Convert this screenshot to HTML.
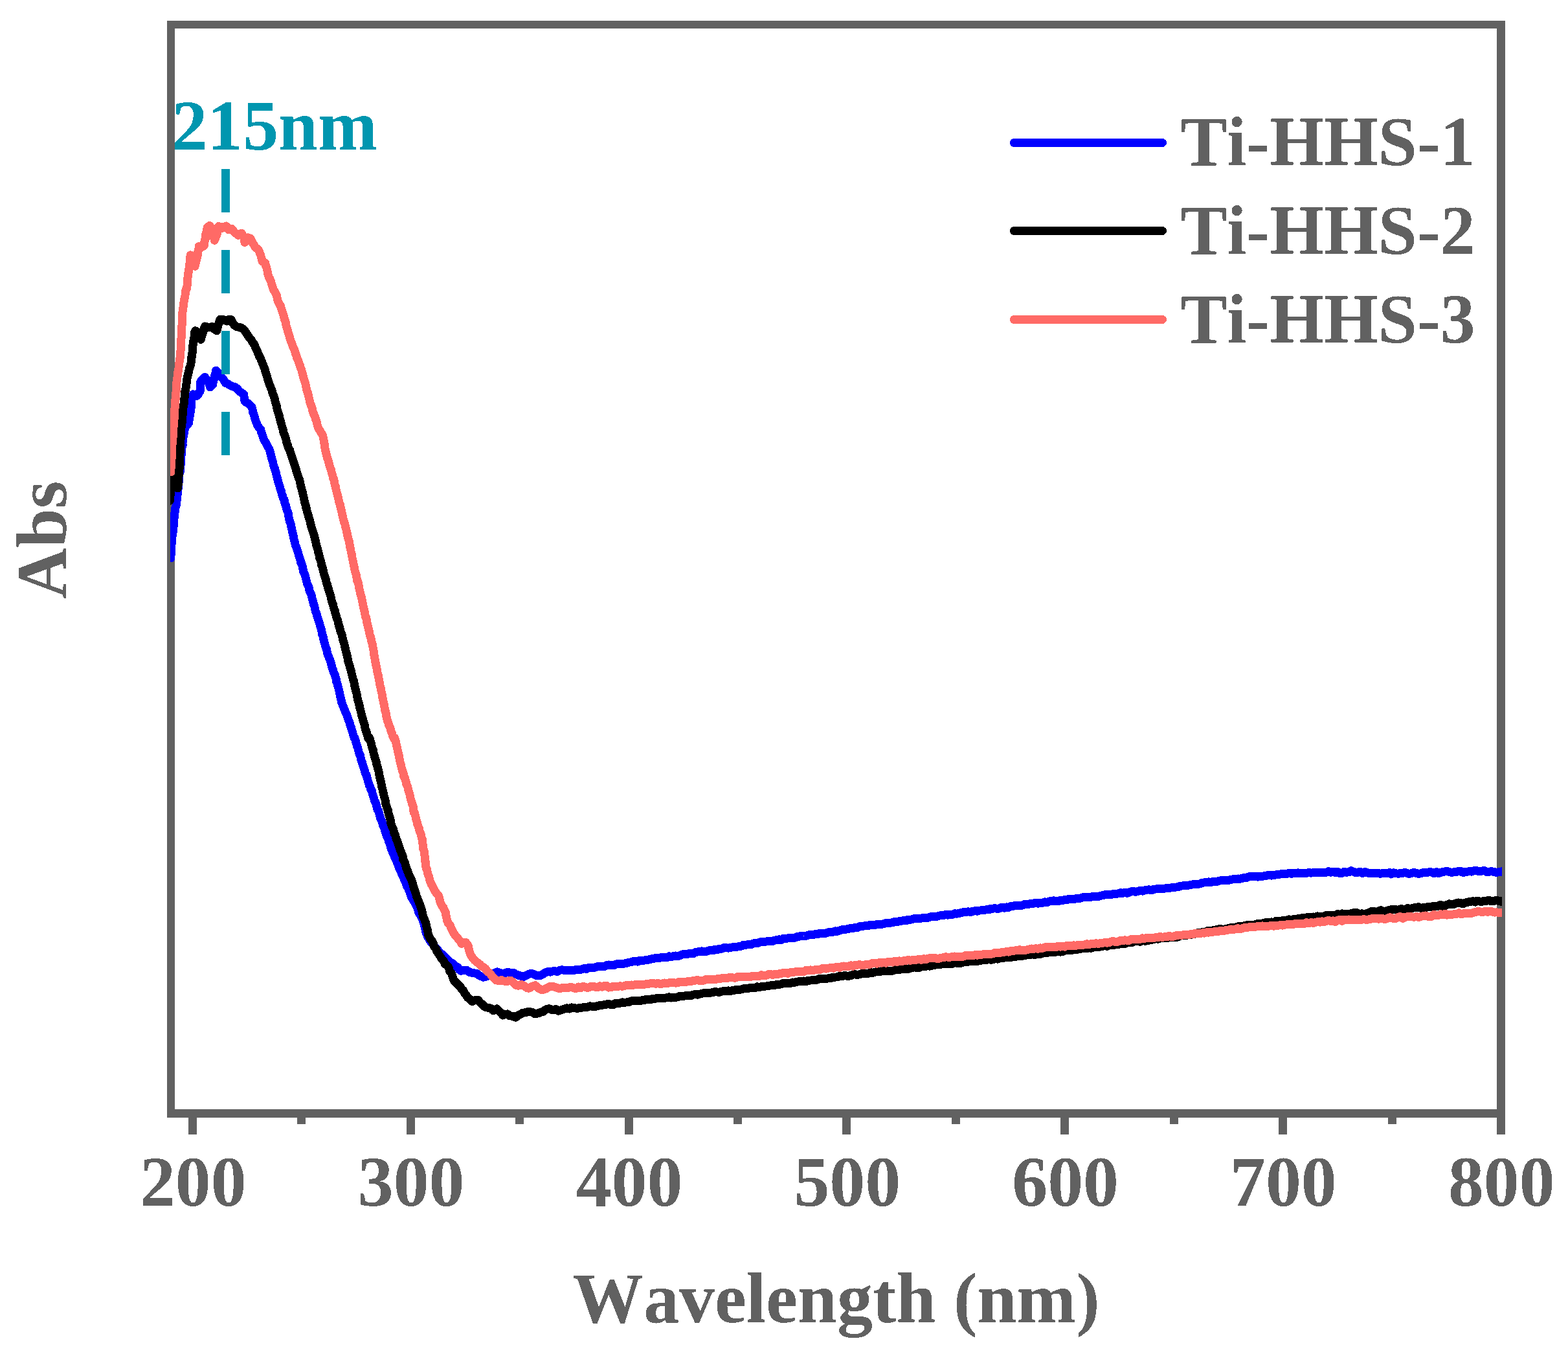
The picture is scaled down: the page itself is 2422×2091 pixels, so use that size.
<!DOCTYPE html>
<html lang="en">
<head>
<meta charset="utf-8">
<title>UV-Vis absorbance of Ti-HHS samples</title>
<style>
html,body{margin:0;padding:0;background:#fff;}
body{width:2422px;height:2091px;overflow:hidden;}
svg{display:block;}
text{font-family:"Liberation Serif","Times New Roman",serif;font-weight:bold;font-size:109.8px;fill:#616161;font-kerning:none;font-variant-ligatures:none;filter:url(#bin);}
.s{font-size:107.8px;}
.c{fill:none;stroke-width:13;stroke-linejoin:round;stroke-linecap:round;}
</style>
</head>
<body>
<svg width="2422" height="2091" viewBox="0 0 2422 2091">
<rect x="0" y="0" width="2422" height="2091" fill="#ffffff"/>
<defs><filter id="bin" x="-5%" y="-20%" width="110%" height="140%" color-interpolation-filters="sRGB"><feComponentTransfer><feFuncA type="discrete" tableValues="0 1"/></feComponentTransfer></filter><clipPath id="plot"><rect x="263" y="38" width="2057" height="1682"/></clipPath></defs>
<!-- frame -->
<g fill="#616161" shape-rendering="crispEdges">
<rect x="258" y="32" width="2067" height="12"/>
<rect x="258" y="1713" width="2067" height="13"/>
<rect x="258" y="32" width="12" height="1694"/>
<rect x="2312" y="32" width="13" height="1694"/>
</g>
<g shape-rendering="crispEdges">
<rect x="291" y="1719" width="13" height="33" fill="#616161"/>
<rect x="628" y="1719" width="13" height="33" fill="#616161"/>
<rect x="965" y="1719" width="13" height="33" fill="#616161"/>
<rect x="1301" y="1719" width="13" height="33" fill="#616161"/>
<rect x="1638" y="1719" width="13" height="33" fill="#616161"/>
<rect x="1975" y="1719" width="13" height="33" fill="#616161"/>
<rect x="2312" y="1719" width="13" height="33" fill="#616161"/>
<rect x="459" y="1719" width="13" height="17" fill="#616161"/>
<rect x="796" y="1719" width="13" height="17" fill="#616161"/>
<rect x="1133" y="1719" width="13" height="17" fill="#616161"/>
<rect x="1470" y="1719" width="13" height="17" fill="#616161"/>
<rect x="1807" y="1719" width="13" height="17" fill="#616161"/>
<rect x="2144" y="1719" width="13" height="17" fill="#616161"/>
</g>
<g clip-path="url(#plot)" shape-rendering="crispEdges">
<path class="c" stroke="#0000FF" d="M264.0,862.0 L263.8,859.3 L264.5,853.8 L264.4,850.7 L264.7,848.0 L264.3,842.0 L265.2,839.5 L265.0,836.0 L265.7,830.8 L266.0,829.3 L266.3,826.3 L267.4,819.9 L267.1,817.8 L268.0,814.0 L268.7,810.0 L268.4,806.4 L268.6,802.2 L269.3,799.3 L269.4,794.9 L270.0,792.0 L270.4,788.2 L271.1,783.2 L272.0,781.0 L272.7,777.7 L272.9,773.1 L273.6,771.6 L273.2,766.5 L274.1,764.1 L274.3,760.0 L275.0,756.0 L275.3,752.9 L275.1,748.9 L276.0,745.8 L276.0,741.0 L276.7,736.9 L277.0,731.6 L278.2,728.0 L278.8,723.9 L278.5,720.5 L279.2,717.0 L279.2,712.5 L279.6,709.7 L279.9,705.0 L280.3,701.0 L280.6,696.3 L281.0,694.0 L280.9,691.2 L282.1,687.5 L281.9,682.8 L282.4,681.8 L282.7,677.0 L283.6,673.1 L284.4,668.2 L284.8,666.4 L285.5,661.0 L288.6,656.9 L291.6,653.0 L291.9,650.7 L292.3,646.7 L293.5,641.0 L293.7,638.4 L294.5,635.3 L295.0,630.9 L295.2,626.1 L295.8,622.1 L295.9,617.7 L296.2,613.8 L298.0,608.9 L304.2,611.3 L306.3,608.7 L309.1,603.9 L309.2,598.9 L309.1,595.7 L309.1,591.6 L310.8,588.1 L312.8,585.5 L316.5,582.4 L319.0,586.2 L321.4,589.2 L323.1,593.4 L324.5,597.8 L328.8,594.1 L329.2,589.2 L330.2,586.1 L331.2,581.8 L332.7,577.6 L333.7,572.2 L336.3,575.2 L338.6,576.9 L340.3,580.6 L342.3,583.0 L344.5,585.0 L346.1,587.8 L348.5,591.6 L352.3,592.9 L355.8,595.3 L359.3,596.8 L363.2,597.8 L366.2,600.0 L369.4,603.9 L372.8,606.5 L376.7,608.9 L376.9,612.1 L377.7,616.1 L378.0,619.9 L380.9,621.7 L384.1,623.6 L386.3,625.8 L389.0,628.5 L389.8,631.2 L390.4,635.9 L391.5,638.4 L392.8,642.1 L394.0,647.0 L395.3,650.9 L396.1,652.6 L397.6,656.8 L399.9,660.3 L402.6,663.0 L403.6,667.5 L405.2,671.3 L406.3,675.3 L407.8,679.5 L409.7,681.9 L411.2,685.1 L413.5,689.7 L416.1,693.7 L417.7,700.0 L418.6,703.6 L419.5,707.1 L420.3,709.9 L421.8,714.5 L422.3,717.9 L423.3,721.5 L424.5,723.9 L425.1,726.5 L426.4,730.0 L427.4,735.3 L428.1,737.2 L429.3,742.2 L430.0,744.7 L431.2,748.2 L432.1,751.3 L433.1,755.4 L434.3,757.8 L435.1,762.2 L436.3,765.3 L437.4,769.5 L438.9,771.2 L439.5,775.3 L441.1,779.7 L441.7,781.9 L443.0,786.6 L444.0,789.4 L445.1,792.5 L445.8,796.7 L446.4,800.7 L447.1,803.6 L447.8,805.9 L449.1,809.5 L449.8,813.7 L450.7,816.6 L451.2,819.9 L452.3,824.0 L453.2,828.0 L453.5,830.8 L454.5,834.1 L455.3,836.6 L456.3,841.7 L457.8,845.1 L458.6,848.1 L459.9,851.0 L460.8,854.2 L461.5,857.7 L463.0,861.7 L464.1,865.0 L464.8,869.1 L466.1,870.9 L467.1,874.5 L468.0,878.8 L468.8,883.0 L469.9,885.2 L471.5,889.0 L472.1,891.9 L473.2,896.5 L474.2,900.3 L475.5,903.8 L476.9,905.9 L477.5,909.7 L478.5,913.5 L479.6,915.6 L481.2,919.7 L482.0,923.5 L482.9,926.7 L483.6,929.2 L484.9,934.3 L485.8,935.9 L486.4,940.0 L487.2,943.5 L488.7,946.5 L489.5,950.0 L490.2,953.0 L491.2,955.6 L492.1,958.9 L493.6,962.5 L494.4,966.1 L495.3,969.0 L496.5,972.4 L497.0,975.9 L497.9,980.5 L499.2,983.1 L499.8,987.2 L500.8,990.9 L501.5,993.3 L502.6,997.9 L503.5,1000.3 L504.7,1003.5 L505.4,1007.8 L506.6,1011.4 L507.8,1014.7 L508.6,1017.2 L510.0,1019.6 L511.1,1023.0 L511.9,1026.9 L513.2,1031.5 L514.4,1033.8 L515.1,1037.8 L516.8,1040.9 L517.9,1044.2 L519.0,1047.6 L519.8,1053.0 L521.1,1055.8 L522.1,1060.2 L523.0,1063.5 L523.7,1066.0 L524.4,1069.6 L525.4,1074.3 L525.9,1076.7 L527.2,1081.8 L527.7,1084.8 L529.0,1088.1 L530.4,1091.1 L531.4,1094.1 L532.6,1096.7 L534.1,1100.7 L535.3,1103.2 L536.5,1106.6 L537.6,1110.0 L539.1,1113.7 L540.3,1116.8 L541.1,1120.5 L542.1,1122.6 L543.3,1126.9 L544.4,1130.0 L545.4,1133.9 L546.2,1136.7 L547.4,1140.0 L547.9,1139.4 L548.9,1142.3 L549.9,1146.4 L551.2,1150.6 L551.9,1153.4 L552.8,1155.7 L554.1,1160.8 L554.9,1164.0 L556.4,1166.5 L557.3,1171.0 L558.1,1174.2 L559.4,1177.4 L560.5,1181.5 L561.3,1184.1 L562.7,1187.7 L563.4,1190.5 L564.6,1194.6 L566.1,1197.0 L567.2,1201.7 L568.1,1204.8 L569.2,1208.6 L570.3,1212.6 L571.9,1215.3 L572.7,1219.3 L574.3,1221.2 L575.3,1226.0 L576.3,1228.8 L577.5,1232.6 L578.6,1236.5 L580.0,1238.9 L581.1,1242.4 L581.9,1245.6 L583.0,1250.2 L584.7,1252.1 L585.6,1256.1 L586.5,1259.3 L587.7,1263.7 L588.7,1266.0 L590.1,1269.1 L591.3,1273.5 L592.5,1276.9 L593.8,1279.3 L594.7,1283.2 L595.8,1286.5 L597.0,1289.9 L598.5,1293.3 L599.7,1296.0 L600.6,1299.8 L601.9,1302.4 L602.9,1305.1 L603.9,1309.3 L605.0,1312.4 L606.5,1316.0 L607.6,1318.3 L609.5,1323.1 L610.8,1326.1 L612.7,1330.0 L614.1,1333.5 L615.4,1337.4 L616.8,1341.6 L618.7,1344.5 L620.5,1349.2 L622.5,1353.2 L623.9,1356.7 L625.9,1361.5 L627.2,1364.7 L628.9,1369.0 L630.5,1371.5 L632.4,1376.3 L633.5,1379.5 L635.6,1385.3 L637.0,1387.9 L639.4,1391.8 L641.7,1395.5 L643.4,1399.5 L645.3,1403.1 L646.7,1408.8 L648.0,1411.1 L649.7,1413.9 L652.0,1418.9 L653.8,1422.7 L654.6,1424.9 L655.6,1430.1 L656.7,1434.2 L657.8,1439.2 L659.1,1442.7 L660.2,1445.8 L662.4,1449.5 L663.9,1452.4 L665.9,1455.0 L667.6,1457.4 L670.4,1460.2 L673.1,1464.0 L675.7,1466.7 L679.6,1471.1 L682.7,1473.6 L686.7,1477.8 L690.0,1480.2 L693.2,1483.4 L695.8,1486.0 L698.6,1487.6 L701.6,1490.7 L707.4,1494.1 L709.9,1497.9 L712.0,1499.3 L717.8,1498.2 L721.3,1498.5 L724.7,1501.1 L730.5,1502.8 L736.3,1503.2 L741.0,1506.9 L746.8,1509.2 L751.4,1508.0 L757.2,1505.7 L761.0,1504.2 L764.1,1502.8 L767.6,1500.9 L771.1,1502.0 L774.6,1503.4 L778.0,1503.2 L782.7,1501.7 L786.1,1501.8 L789.6,1502.8 L793.3,1502.2 L796.6,1504.6 L801.2,1506.3 L805.8,1507.5 L809.3,1508.3 L812.8,1506.3 L817.4,1504.0 L822.0,1503.6 L825.7,1504.9 L829.0,1506.9 L834.8,1506.3 L838.4,1504.6 L841.7,1502.2 L845.5,1500.7 L849.8,1501.1 L854.3,1499.8 L858.0,1499.9 L861.1,1500.3 L865.0,1498.1 L868.4,1497.8 L872.6,1498.7 L876.5,1498.6 L881.1,1498.2 L884.8,1498.9 L887.8,1498.0 L891.3,1497.5 L894.7,1497.9 L898.5,1496.7 L902.7,1495.3 L906.0,1496.5 L910.1,1494.1 L914.2,1494.8 L917.4,1494.6 L921.7,1493.0 L926.0,1492.2 L930.0,1492.5 L933.4,1492.8 L937.2,1490.5 L940.6,1490.0 L944.4,1490.4 L947.8,1490.8 L951.0,1489.1 L954.4,1488.4 L957.9,1488.6 L961.1,1488.5 L964.6,1488.0 L968.0,1487.4 L971.6,1486.2 L974.7,1485.8 L978.3,1484.7 L981.6,1484.1 L985.2,1485.1 L988.4,1483.1 L992.1,1483.9 L995.6,1483.0 L998.7,1482.9 L1002.0,1482.1 L1005.4,1481.1 L1009.0,1480.5 L1012.2,1479.7 L1015.8,1479.7 L1019.4,1479.2 L1022.8,1478.4 L1026.3,1478.2 L1029.7,1478.8 L1033.4,1476.8 L1036.7,1477.9 L1040.0,1476.8 L1043.3,1476.0 L1046.9,1476.5 L1050.2,1475.9 L1053.8,1474.0 L1057.3,1473.2 L1060.2,1473.8 L1063.6,1472.8 L1067.0,1472.4 L1070.8,1472.7 L1073.8,1470.6 L1077.6,1470.0 L1080.7,1469.6 L1084.1,1468.9 L1087.8,1469.7 L1091.2,1469.3 L1094.6,1467.9 L1097.9,1467.6 L1101.4,1467.9 L1104.8,1466.1 L1107.9,1466.8 L1111.6,1465.2 L1115.0,1465.1 L1118.3,1463.7 L1121.7,1463.8 L1125.0,1464.1 L1128.5,1463.2 L1132.1,1462.8 L1135.5,1462.3 L1138.6,1462.2 L1142.0,1461.5 L1145.8,1460.9 L1148.7,1459.0 L1152.6,1459.2 L1155.8,1458.7 L1159.1,1459.0 L1162.4,1457.7 L1166.0,1456.4 L1169.4,1456.9 L1173.0,1455.1 L1176.2,1454.7 L1179.8,1454.2 L1182.8,1454.2 L1186.6,1453.5 L1189.7,1453.8 L1193.4,1453.4 L1196.6,1452.1 L1199.9,1451.8 L1203.4,1450.8 L1207.0,1451.4 L1210.3,1449.3 L1213.7,1449.5 L1217.3,1448.9 L1220.9,1448.9 L1224.3,1448.3 L1227.7,1448.1 L1231.3,1446.5 L1234.5,1446.1 L1238.1,1445.1 L1241.5,1445.5 L1244.9,1445.4 L1248.7,1444.0 L1252.0,1443.5 L1255.5,1443.7 L1259.1,1442.8 L1262.4,1443.0 L1265.9,1441.4 L1269.3,1442.0 L1273.0,1441.4 L1276.7,1441.0 L1280.0,1439.6 L1283.6,1439.8 L1287.0,1439.0 L1290.0,1437.9 L1293.7,1438.2 L1297.2,1437.1 L1300.6,1435.9 L1304.1,1435.9 L1307.2,1435.0 L1310.9,1434.5 L1313.9,1433.3 L1317.6,1433.4 L1321.1,1432.2 L1324.2,1432.6 L1327.4,1430.9 L1331.1,1430.6 L1334.3,1430.0 L1337.9,1429.9 L1341.4,1429.5 L1344.5,1428.2 L1348.3,1428.7 L1351.3,1428.6 L1354.7,1427.3 L1358.5,1427.4 L1361.6,1427.3 L1365.2,1426.7 L1368.8,1425.5 L1372.1,1425.2 L1375.6,1425.2 L1378.9,1424.7 L1382.4,1423.3 L1385.4,1423.7 L1389.1,1422.8 L1392.4,1422.1 L1395.8,1421.8 L1399.4,1421.9 L1402.7,1420.0 L1406.2,1420.3 L1409.3,1419.5 L1412.9,1418.5 L1416.0,1418.6 L1419.9,1418.9 L1423.3,1418.0 L1426.5,1417.6 L1429.9,1417.1 L1433.4,1417.3 L1436.6,1416.2 L1440.0,1415.2 L1443.5,1415.2 L1446.9,1415.4 L1450.1,1414.3 L1453.7,1413.6 L1457.5,1413.6 L1460.7,1412.5 L1464.1,1413.1 L1467.9,1412.2 L1471.4,1412.2 L1474.8,1410.8 L1478.1,1411.1 L1481.5,1410.6 L1485.1,1409.4 L1488.6,1408.6 L1492.0,1408.7 L1495.3,1407.8 L1498.9,1408.6 L1502.6,1407.2 L1506.3,1406.7 L1509.5,1407.1 L1513.1,1406.1 L1516.7,1405.8 L1520.0,1405.4 L1523.6,1404.9 L1527.2,1404.9 L1530.2,1403.4 L1534.2,1403.1 L1537.1,1402.7 L1540.9,1403.5 L1544.3,1402.6 L1548.0,1401.0 L1551.4,1402.2 L1554.8,1400.9 L1558.2,1401.2 L1562.0,1399.2 L1565.2,1399.3 L1568.8,1398.3 L1572.0,1398.1 L1575.6,1398.6 L1579.3,1398.1 L1582.7,1396.4 L1586.0,1397.0 L1589.4,1396.2 L1593.2,1395.1 L1596.5,1395.3 L1600.1,1394.2 L1603.3,1395.2 L1606.7,1394.1 L1610.3,1394.4 L1614.0,1392.9 L1617.2,1393.6 L1620.7,1392.0 L1624.2,1391.8 L1627.5,1390.8 L1631.3,1391.5 L1634.7,1391.7 L1637.8,1390.5 L1641.3,1390.5 L1645.0,1389.2 L1648.1,1389.6 L1651.7,1388.2 L1655.0,1388.6 L1658.7,1388.9 L1662.1,1387.8 L1665.3,1387.1 L1668.8,1387.2 L1672.3,1385.9 L1675.8,1386.0 L1679.2,1385.8 L1682.6,1385.9 L1686.3,1384.9 L1689.4,1384.1 L1693.2,1384.3 L1696.7,1384.3 L1700.0,1383.2 L1703.3,1382.8 L1706.7,1381.7 L1710.0,1381.6 L1713.4,1381.7 L1717.1,1381.3 L1720.5,1380.3 L1723.7,1380.5 L1727.5,1379.9 L1730.4,1378.7 L1734.0,1379.4 L1737.2,1378.3 L1741.0,1379.3 L1744.2,1378.2 L1747.7,1376.7 L1751.0,1376.6 L1754.4,1377.3 L1757.9,1376.4 L1761.4,1375.2 L1764.5,1376.1 L1767.9,1375.0 L1771.4,1374.1 L1774.7,1373.9 L1778.3,1375.0 L1781.8,1373.3 L1785.2,1373.0 L1788.6,1372.7 L1792.2,1372.4 L1795.5,1372.6 L1799.0,1372.1 L1802.4,1371.4 L1805.7,1371.4 L1809.0,1371.0 L1812.4,1370.3 L1815.8,1370.1 L1819.4,1369.8 L1822.6,1368.3 L1826.0,1368.0 L1829.3,1367.9 L1832.9,1367.1 L1836.1,1367.1 L1839.6,1366.3 L1842.8,1365.8 L1846.5,1365.6 L1849.9,1365.6 L1853.4,1364.8 L1856.4,1363.6 L1860.2,1362.8 L1863.7,1362.3 L1867.1,1361.9 L1870.5,1362.5 L1873.7,1361.4 L1877.1,1361.7 L1880.5,1361.2 L1884.1,1360.0 L1887.5,1359.9 L1891.0,1359.6 L1894.8,1359.1 L1897.9,1359.3 L1901.8,1358.3 L1905.0,1357.8 L1908.8,1357.2 L1912.2,1357.0 L1915.5,1357.2 L1919.0,1356.2 L1922.3,1355.5 L1925.8,1355.5 L1929.3,1353.9 L1932.8,1353.7 L1936.5,1353.7 L1940.0,1353.5 L1943.3,1354.1 L1947.0,1353.2 L1950.4,1353.2 L1953.5,1352.8 L1956.9,1352.1 L1960.4,1351.1 L1964.0,1352.1 L1967.1,1351.7 L1970.6,1351.0 L1974.3,1350.9 L1977.2,1350.0 L1980.8,1349.5 L1984.4,1349.4 L1987.8,1349.5 L1991.1,1348.1 L1994.6,1349.3 L1997.9,1348.3 L2001.1,1348.5 L2004.7,1347.9 L2008.2,1349.0 L2011.3,1348.8 L2014.9,1348.6 L2018.2,1348.3 L2021.5,1347.6 L2025.4,1348.1 L2028.7,1347.6 L2031.9,1347.6 L2035.5,1348.0 L2038.6,1347.4 L2042.2,1347.6 L2045.8,1348.0 L2048.8,1347.1 L2052.0,1345.7 L2055.8,1347.2 L2058.9,1346.1 L2063.0,1347.6 L2066.5,1346.3 L2069.4,1348.4 L2073.5,1348.2 L2076.2,1346.3 L2080.3,1347.3 L2084.0,1346.6 L2087.0,1344.8 L2090.6,1346.3 L2094.4,1348.0 L2097.9,1347.2 L2100.9,1346.1 L2104.7,1348.5 L2108.4,1346.3 L2111.5,1347.5 L2114.8,1348.6 L2118.8,1348.6 L2122.0,1348.7 L2125.3,1348.3 L2128.9,1348.4 L2131.9,1349.2 L2135.2,1348.8 L2138.9,1348.6 L2142.5,1348.3 L2146.3,1347.6 L2148.8,1349.9 L2152.5,1347.7 L2156.0,1348.8 L2160.0,1349.2 L2162.7,1348.6 L2166.3,1348.5 L2169.7,1347.5 L2173.1,1348.2 L2176.3,1349.6 L2180.0,1348.6 L2183.8,1347.4 L2187.9,1348.5 L2191.4,1349.5 L2195.0,1348.7 L2198.3,1347.7 L2201.2,1347.3 L2204.8,1347.3 L2208.3,1346.8 L2211.4,1347.0 L2214.9,1348.7 L2218.6,1346.7 L2221.9,1348.7 L2225.4,1347.6 L2228.7,1346.4 L2232.3,1345.9 L2235.9,1345.8 L2239.2,1346.7 L2242.6,1347.3 L2245.8,1346.9 L2248.9,1346.8 L2252.4,1345.6 L2256.1,1345.5 L2259.9,1347.5 L2263.1,1346.8 L2266.4,1346.2 L2270.0,1345.4 L2273.2,1346.1 L2276.8,1344.7 L2280.6,1344.6 L2284.2,1345.8 L2288.4,1345.3 L2292.4,1344.3 L2295.6,1346.3 L2299.7,1346.4 L2303.7,1345.6 L2308.0,1346.4 L2311.1,1347.5 L2315.3,1346.7 L2318.9,1345.9 L2322.3,1346.7"/>
<path class="c" stroke="#000000" d="M262.0,773.5 L262.8,771.3 L262.4,765.1 L263.6,763.5 L263.8,758.6 L264.2,755.9 L264.5,752.0 L264.9,747.5 L265.2,744.7 L265.8,743.0 L266.0,738.0 L268.1,741.3 L269.3,743.7 L270.6,746.2 L272.6,750.3 L274.3,754.0 L274.7,751.7 L275.4,747.0 L275.7,743.5 L275.7,738.2 L276.0,734.9 L276.4,733.8 L276.8,727.7 L276.9,725.0 L277.4,722.1 L277.4,718.6 L277.5,714.4 L277.3,711.1 L278.0,704.8 L277.7,702.0 L278.1,699.0 L278.0,694.8 L278.2,692.3 L278.4,688.3 L278.5,684.8 L278.8,680.0 L279.4,676.5 L279.3,674.5 L279.6,669.8 L279.3,665.9 L279.8,663.0 L280.3,658.3 L280.9,655.0 L281.2,651.4 L281.6,649.0 L281.6,644.7 L282.1,641.3 L282.1,636.5 L282.7,635.0 L283.0,630.0 L283.6,625.2 L284.2,623.6 L284.7,618.4 L285.0,614.4 L285.4,611.5 L285.5,609.8 L285.8,605.1 L286.6,601.5 L287.5,597.2 L287.5,595.5 L288.2,591.4 L288.4,586.8 L289.1,584.1 L290.0,580.0 L290.7,577.5 L291.7,573.0 L292.8,567.7 L294.3,564.6 L295.1,559.7 L295.1,557.3 L295.8,551.5 L296.9,547.9 L297.0,545.0 L296.8,550.0 L296.7,545.7 L297.5,543.0 L297.4,537.9 L297.6,534.4 L298.6,531.4 L298.7,526.8 L299.6,523.5 L300.1,519.2 L300.3,514.5 L301.7,510.8 L306.0,513.2 L307.4,516.1 L309.0,520.0 L310.3,524.3 L311.2,520.0 L313.1,515.0 L314.0,512.0 L315.3,507.7 L316.5,504.0 L322.0,505.8 L327.6,504.6 L331.2,508.3 L334.9,510.8 L335.7,506.8 L336.8,503.7 L337.4,500.9 L338.7,497.1 L339.8,493.6 L344.8,493.6 L350.3,496.0 L353.4,493.6 L357.1,493.6 L359.3,498.0 L362.0,502.2 L365.7,504.6 L371.8,505.8 L374.7,507.4 L378.0,510.8 L380.2,513.8 L382.9,518.1 L385.1,521.5 L387.8,524.3 L390.3,529.0 L392.7,531.7 L394.8,536.8 L396.4,540.0 L397.7,543.4 L399.3,547.2 L401.0,551.1 L402.5,553.6 L403.9,557.6 L405.1,560.2 L406.9,564.6 L408.0,567.3 L409.3,571.1 L410.1,574.5 L411.3,578.1 L412.6,582.1 L413.6,586.0 L414.9,589.2 L416.0,593.5 L417.6,596.7 L418.5,599.8 L419.9,602.4 L421.0,606.8 L422.1,609.5 L423.5,613.8 L424.6,617.0 L425.4,621.7 L426.4,623.9 L427.6,627.6 L428.0,631.7 L429.0,634.5 L430.2,638.4 L431.4,642.3 L431.9,645.3 L433.1,648.9 L433.9,652.6 L434.8,655.5 L436.0,660.4 L437.0,663.0 L437.8,667.0 L438.9,670.2 L440.1,673.5 L441.4,676.8 L442.1,679.8 L443.1,684.8 L444.4,687.6 L446.0,692.7 L447.6,694.9 L449.0,700.0 L450.2,704.0 L451.4,706.9 L452.3,710.2 L453.6,713.3 L454.6,717.1 L456.0,721.2 L457.1,724.7 L457.8,727.0 L459.0,730.5 L460.1,734.7 L461.5,738.0 L462.6,740.5 L463.5,744.7 L464.2,749.1 L464.9,751.4 L465.7,754.2 L467.0,759.4 L467.7,761.1 L468.3,764.8 L469.4,769.1 L470.0,772.3 L470.7,775.7 L472.0,779.6 L472.3,782.6 L473.5,785.5 L474.2,789.4 L475.4,792.8 L476.3,796.1 L477.5,800.3 L478.2,802.4 L479.1,805.7 L480.2,810.8 L480.9,813.5 L482.1,816.7 L483.2,821.2 L484.2,823.7 L485.3,826.9 L486.2,831.0 L487.0,834.1 L488.0,838.2 L488.6,841.2 L489.6,844.7 L490.9,848.1 L491.2,851.2 L492.5,855.5 L493.3,858.8 L493.8,862.5 L495.2,865.3 L496.2,869.3 L496.6,872.6 L497.9,874.8 L498.6,878.8 L499.7,882.4 L500.4,886.3 L501.4,889.3 L502.5,892.1 L503.6,895.9 L504.4,900.4 L505.3,901.9 L506.5,907.0 L507.6,910.3 L508.5,913.5 L509.4,916.2 L510.5,919.1 L511.5,923.5 L512.1,927.3 L513.1,930.6 L514.3,933.2 L515.1,937.3 L515.9,940.0 L517.2,942.9 L517.9,947.0 L519.1,950.5 L520.0,954.6 L521.6,957.9 L522.4,961.5 L523.5,966.1 L524.6,969.0 L525.5,972.9 L526.5,976.3 L527.8,979.0 L528.7,983.1 L529.6,987.7 L530.5,990.5 L531.6,993.5 L532.4,997.9 L533.4,1001.3 L534.2,1005.9 L535.3,1009.0 L535.9,1011.9 L536.9,1015.5 L537.7,1020.6 L538.6,1023.9 L539.7,1026.9 L540.6,1030.2 L541.5,1033.3 L542.5,1037.1 L543.4,1040.9 L544.6,1045.8 L545.3,1048.9 L546.5,1051.8 L547.2,1055.8 L547.8,1058.9 L548.7,1063.4 L549.6,1066.4 L550.7,1069.8 L551.5,1074.2 L552.1,1078.2 L552.9,1081.9 L553.8,1084.8 L555.0,1088.4 L555.7,1092.9 L556.7,1096.1 L557.7,1100.1 L558.5,1103.8 L559.1,1106.7 L560.3,1109.8 L561.1,1113.7 L562.0,1116.3 L563.3,1120.0 L564.0,1124.3 L564.8,1127.8 L565.7,1129.2 L566.8,1133.1 L568.1,1137.5 L568.8,1140.0 L570.7,1139.4 L571.8,1142.7 L572.6,1145.8 L573.7,1149.5 L574.4,1153.4 L575.2,1156.2 L576.6,1159.2 L577.1,1162.9 L578.1,1166.7 L579.1,1170.0 L580.0,1173.3 L581.2,1176.9 L582.0,1181.2 L583.0,1184.1 L583.5,1186.8 L584.8,1190.8 L585.5,1193.7 L586.1,1198.5 L586.8,1201.8 L587.7,1204.5 L588.7,1208.0 L589.2,1211.8 L589.9,1215.7 L590.8,1218.7 L591.6,1222.9 L592.6,1226.0 L593.1,1228.8 L594.0,1232.1 L594.9,1234.8 L595.5,1240.1 L596.4,1243.4 L597.7,1246.8 L598.2,1249.0 L599.5,1251.9 L600.0,1256.0 L600.9,1259.0 L602.1,1262.4 L603.2,1266.9 L603.5,1270.9 L604.7,1273.5 L605.7,1276.7 L607.0,1279.2 L608.0,1282.2 L609.0,1287.1 L610.5,1289.5 L611.5,1293.5 L612.3,1295.9 L613.4,1298.3 L614.5,1301.7 L615.6,1304.9 L616.9,1308.9 L618.3,1312.7 L619.3,1315.1 L620.3,1318.3 L622.0,1321.1 L622.5,1327.1 L624.2,1330.0 L625.6,1332.9 L626.6,1337.1 L628.0,1341.6 L629.6,1345.2 L631.3,1350.3 L633.1,1353.2 L634.9,1357.2 L636.0,1360.2 L637.5,1364.7 L639.0,1370.1 L639.7,1373.1 L641.2,1376.3 L642.7,1380.7 L643.3,1384.2 L645.0,1387.9 L646.3,1390.8 L648.2,1396.1 L649.7,1399.5 L650.9,1404.1 L652.0,1407.2 L652.8,1411.1 L653.6,1415.8 L655.6,1419.9 L656.6,1422.7 L657.7,1425.1 L658.4,1429.1 L659.7,1434.2 L660.8,1438.2 L661.4,1443.4 L662.7,1445.8 L665.4,1450.9 L667.1,1452.9 L669.3,1457.4 L670.8,1462.3 L673.0,1464.4 L674.6,1469.0 L676.9,1472.1 L678.3,1474.5 L680.4,1477.6 L682.1,1480.6 L684.9,1483.4 L687.3,1488.7 L691.9,1492.2 L693.5,1495.5 L694.8,1500.3 L697.2,1502.8 L698.9,1507.2 L699.9,1510.8 L701.2,1514.2 L704.0,1517.2 L707.0,1520.0 L711.6,1524.6 L713.2,1527.7 L715.9,1529.9 L718.1,1534.7 L720.4,1537.1 L722.4,1540.5 L725.9,1543.0 L729.4,1546.5 L734.0,1544.7 L738.6,1544.5 L740.6,1546.9 L743.0,1549.4 L745.6,1551.3 L747.9,1554.4 L751.6,1555.9 L756.0,1556.7 L759.2,1557.8 L761.8,1560.7 L767.6,1557.8 L770.0,1560.8 L772.6,1563.4 L774.4,1564.4 L776.9,1567.9 L780.7,1566.3 L783.8,1565.9 L787.4,1568.8 L791.9,1569.4 L796.6,1571.2 L799.8,1568.3 L803.5,1566.5 L807.4,1564.3 L811.6,1563.6 L817.4,1562.2 L822.3,1563.5 L826.7,1565.9 L832.5,1564.4 L835.9,1563.0 L839.4,1562.2 L842.8,1559.2 L845.7,1558.1 L848.7,1557.8 L851.8,1559.2 L855.6,1559.9 L859.0,1558.5 L862.7,1561.2 L866.1,1559.9 L870.8,1558.3 L875.3,1556.8 L879.5,1558.0 L882.7,1555.9 L886.9,1556.4 L891.4,1557.5 L894.7,1556.6 L899.4,1556.0 L903.1,1555.5 L907.6,1555.2 L911.4,1553.8 L915.9,1554.4 L919.0,1554.4 L922.6,1553.7 L926.4,1552.6 L930.0,1552.3 L933.9,1551.6 L937.0,1551.1 L940.2,1550.2 L944.0,1551.7 L947.0,1551.7 L951.0,1549.1 L954.5,1549.3 L957.9,1549.1 L961.3,1547.9 L964.7,1548.2 L968.3,1547.9 L971.6,1547.7 L974.8,1546.0 L978.3,1545.8 L981.5,1545.6 L985.2,1545.7 L988.6,1545.9 L991.7,1544.7 L995.1,1544.5 L998.7,1543.1 L1002.1,1543.6 L1005.6,1543.6 L1008.9,1542.1 L1012.6,1542.1 L1015.8,1541.5 L1019.0,1541.8 L1022.6,1542.0 L1026.2,1541.5 L1029.8,1540.8 L1033.3,1539.8 L1036.5,1541.1 L1040.0,1540.3 L1043.1,1540.2 L1047.1,1539.9 L1050.4,1538.3 L1053.6,1538.8 L1057.0,1538.1 L1060.6,1537.2 L1063.6,1537.5 L1067.5,1537.5 L1070.7,1536.2 L1074.3,1535.3 L1077.3,1536.2 L1081.1,1535.1 L1084.5,1534.2 L1087.7,1533.7 L1090.9,1533.5 L1094.2,1533.4 L1097.9,1533.2 L1101.3,1532.4 L1104.8,1531.6 L1108.1,1532.0 L1111.5,1532.3 L1114.7,1531.1 L1118.3,1530.6 L1122.0,1530.5 L1125.2,1529.9 L1128.5,1530.4 L1132.1,1529.5 L1135.2,1529.0 L1138.6,1528.1 L1141.9,1528.4 L1145.8,1527.8 L1149.0,1526.8 L1152.4,1526.7 L1155.8,1526.4 L1159.2,1525.5 L1162.5,1525.9 L1166.3,1525.6 L1169.5,1523.7 L1172.7,1524.7 L1176.5,1523.7 L1179.7,1523.4 L1182.9,1523.0 L1186.4,1522.8 L1189.8,1522.0 L1193.3,1521.3 L1196.6,1521.6 L1200.2,1520.1 L1203.5,1520.5 L1207.0,1519.6 L1210.5,1518.2 L1213.7,1518.4 L1217.2,1518.2 L1220.7,1518.4 L1224.4,1517.0 L1227.7,1517.2 L1231.3,1516.1 L1234.8,1515.7 L1237.9,1515.8 L1241.7,1515.0 L1245.1,1515.6 L1248.8,1514.1 L1252.3,1514.0 L1255.5,1513.7 L1259.2,1513.8 L1262.6,1513.0 L1266.0,1511.4 L1269.5,1511.1 L1273.3,1511.2 L1276.6,1511.4 L1280.0,1510.6 L1283.2,1510.8 L1286.7,1509.0 L1290.3,1509.1 L1293.8,1508.7 L1296.8,1507.5 L1300.2,1507.9 L1304.0,1506.7 L1307.2,1507.0 L1310.9,1507.5 L1314.3,1506.4 L1317.5,1505.2 L1320.9,1504.7 L1324.2,1505.5 L1327.7,1504.8 L1331.1,1503.6 L1334.5,1503.7 L1337.9,1503.1 L1341.2,1503.3 L1345.0,1501.8 L1348.0,1502.5 L1351.6,1501.1 L1355.0,1500.7 L1358.5,1501.0 L1361.7,1499.9 L1365.1,1500.0 L1368.5,1499.1 L1371.8,1499.7 L1375.6,1499.6 L1378.8,1499.1 L1382.0,1497.7 L1385.7,1496.9 L1388.8,1498.0 L1392.2,1496.5 L1395.8,1496.7 L1399.1,1496.9 L1402.3,1496.5 L1405.9,1495.5 L1409.4,1494.3 L1413.1,1493.9 L1416.4,1494.7 L1419.6,1494.4 L1422.8,1492.5 L1426.4,1492.0 L1430.0,1492.3 L1433.4,1491.5 L1436.4,1492.1 L1439.9,1490.8 L1443.3,1490.7 L1446.9,1489.5 L1450.0,1489.3 L1453.7,1489.2 L1457.3,1488.2 L1460.5,1488.7 L1464.2,1488.7 L1467.7,1488.5 L1471.0,1488.3 L1474.4,1486.5 L1477.9,1487.3 L1481.6,1487.3 L1485.4,1487.0 L1488.7,1485.6 L1492.3,1485.9 L1495.4,1485.3 L1498.8,1484.0 L1502.6,1484.9 L1506.2,1484.6 L1509.3,1484.2 L1513.3,1483.8 L1516.5,1482.8 L1520.0,1482.8 L1523.2,1482.6 L1527.2,1481.3 L1530.6,1482.3 L1533.8,1481.8 L1537.2,1480.5 L1540.9,1481.1 L1544.4,1479.3 L1548.1,1479.8 L1551.4,1478.8 L1554.7,1478.1 L1558.1,1478.3 L1561.7,1478.3 L1565.4,1477.4 L1568.9,1477.5 L1572.1,1476.3 L1575.9,1476.8 L1578.9,1476.4 L1582.5,1475.5 L1586.2,1474.8 L1589.4,1475.0 L1593.2,1473.8 L1596.5,1474.1 L1600.1,1474.1 L1603.2,1473.6 L1606.9,1473.3 L1610.3,1472.2 L1613.8,1471.6 L1617.2,1471.5 L1620.4,1470.8 L1624.0,1470.7 L1627.6,1470.9 L1630.9,1470.2 L1634.4,1469.2 L1637.7,1470.1 L1641.6,1469.5 L1644.6,1467.8 L1648.0,1467.7 L1651.7,1466.8 L1655.1,1467.6 L1658.8,1466.3 L1661.8,1467.0 L1665.4,1465.7 L1668.8,1465.2 L1672.3,1464.8 L1675.7,1464.9 L1679.5,1464.1 L1682.7,1464.0 L1686.4,1464.1 L1689.9,1462.6 L1693.3,1462.4 L1696.6,1462.5 L1700.0,1462.0 L1703.4,1461.2 L1706.6,1460.2 L1710.4,1461.3 L1713.6,1459.4 L1717.2,1459.6 L1720.4,1459.4 L1723.7,1458.2 L1727.4,1458.6 L1730.9,1457.6 L1734.3,1457.9 L1737.5,1457.5 L1740.7,1455.5 L1744.4,1455.2 L1747.7,1455.8 L1751.2,1454.3 L1754.6,1453.6 L1757.9,1453.9 L1761.3,1454.2 L1764.7,1452.7 L1768.4,1453.1 L1771.7,1453.0 L1775.2,1452.0 L1778.5,1451.5 L1781.6,1450.7 L1785.0,1449.8 L1788.6,1450.1 L1792.2,1449.0 L1795.5,1448.9 L1798.7,1448.7 L1802.4,1448.9 L1805.6,1447.6 L1808.7,1447.6 L1812.7,1447.3 L1815.8,1447.0 L1819.3,1447.1 L1822.4,1445.5 L1826.0,1444.7 L1829.4,1444.9 L1832.6,1444.3 L1836.1,1443.7 L1839.5,1443.3 L1843.0,1442.8 L1846.7,1441.7 L1849.6,1440.8 L1853.5,1440.7 L1856.8,1439.8 L1860.3,1439.9 L1863.5,1438.8 L1866.7,1437.1 L1870.1,1437.8 L1873.7,1436.8 L1877.4,1436.8 L1880.9,1435.0 L1883.9,1434.9 L1887.4,1435.0 L1891.4,1435.1 L1894.4,1434.2 L1898.2,1433.7 L1901.6,1432.4 L1905.3,1433.1 L1908.7,1432.0 L1911.8,1431.0 L1915.4,1430.5 L1918.9,1430.7 L1922.6,1429.4 L1926.3,1428.6 L1929.8,1429.1 L1933.1,1428.1 L1936.6,1428.7 L1940.0,1427.5 L1943.2,1426.4 L1947.0,1426.1 L1950.0,1426.1 L1953.5,1425.1 L1956.9,1424.5 L1960.6,1424.9 L1963.9,1423.9 L1967.4,1424.7 L1970.9,1422.5 L1974.0,1422.2 L1977.5,1422.7 L1980.9,1421.7 L1984.5,1421.8 L1988.0,1420.9 L1991.2,1419.9 L1994.5,1420.4 L1997.9,1419.7 L2001.2,1419.5 L2004.5,1418.9 L2008.2,1418.5 L2011.3,1417.6 L2014.9,1418.1 L2018.3,1416.9 L2021.7,1416.7 L2025.0,1416.8 L2028.5,1416.0 L2031.7,1416.7 L2035.1,1414.9 L2038.7,1415.7 L2042.4,1415.3 L2045.4,1415.0 L2048.7,1413.4 L2052.0,1413.9 L2055.8,1413.3 L2059.3,1413.5 L2063.0,1413.7 L2066.3,1411.6 L2069.8,1413.8 L2073.1,1410.9 L2076.4,1412.1 L2079.7,1411.1 L2083.3,1412.6 L2086.7,1410.8 L2090.1,1409.9 L2093.4,1409.5 L2096.2,1409.6 L2100.2,1412.2 L2103.5,1410.9 L2107.0,1411.3 L2110.7,1411.0 L2113.7,1409.8 L2117.6,1407.7 L2122.2,1407.6 L2126.2,1408.8 L2130.0,1406.9 L2133.1,1405.6 L2136.7,1407.4 L2140.6,1407.6 L2143.4,1406.1 L2147.4,1405.0 L2150.5,1404.2 L2154.2,1404.6 L2157.2,1405.0 L2160.5,1405.1 L2164.0,1403.6 L2167.7,1404.1 L2171.1,1404.4 L2174.6,1402.6 L2177.8,1403.8 L2180.7,1402.8 L2184.5,1401.7 L2187.9,1401.7 L2190.9,1400.7 L2195.0,1402.3 L2198.6,1401.6 L2201.9,1401.5 L2204.6,1400.8 L2208.7,1400.7 L2211.5,1400.2 L2215.0,1399.0 L2218.8,1399.5 L2221.6,1399.1 L2224.9,1397.4 L2229.1,1399.4 L2231.9,1398.6 L2235.3,1397.4 L2238.8,1395.8 L2242.3,1397.0 L2245.8,1396.5 L2249.6,1394.7 L2252.6,1394.0 L2256.0,1394.3 L2260.0,1396.0 L2263.2,1394.1 L2266.8,1393.2 L2271.0,1392.5 L2274.8,1391.7 L2278.7,1393.1 L2281.3,1391.3 L2285.3,1392.0 L2288.7,1392.5 L2292.2,1391.4 L2295.7,1391.3 L2300.2,1390.3 L2303.4,1391.7 L2307.3,1391.5 L2311.1,1390.3 L2315.3,1391.3 L2318.6,1392.2 L2322.3,1391.3"/>
<path class="c" stroke="#FF6A66" d="M264.0,729.0 L263.9,725.5 L264.1,722.1 L264.5,716.8 L264.1,715.5 L264.4,710.1 L265.2,707.2 L265.2,703.6 L265.0,700.0 L265.4,695.3 L265.7,693.8 L265.8,689.8 L266.2,684.1 L266.6,682.1 L266.5,676.8 L267.2,674.5 L267.4,672.0 L267.6,668.5 L267.6,664.5 L268.0,660.0 L268.2,657.9 L268.7,652.0 L268.3,649.0 L269.2,646.2 L269.1,642.4 L269.2,639.3 L269.3,636.5 L269.7,634.0 L270.0,630.7 L270.0,626.0 L270.6,623.9 L270.8,617.9 L271.2,616.8 L271.6,612.1 L271.7,607.4 L272.1,605.0 L272.0,599.9 L272.8,599.2 L272.4,595.1 L273.0,589.6 L273.2,587.9 L274.0,582.2 L274.0,580.0 L274.6,575.3 L275.2,572.8 L275.9,571.4 L276.0,568.2 L276.4,562.1 L277.2,558.6 L277.3,556.4 L278.2,552.3 L278.6,550.0 L278.4,547.2 L278.8,543.6 L279.5,538.0 L279.2,534.6 L279.6,531.0 L279.6,526.8 L279.9,523.1 L280.5,518.6 L280.3,514.5 L280.5,511.1 L280.6,505.7 L281.1,502.2 L281.7,498.2 L281.5,492.5 L281.7,489.9 L282.0,486.0 L281.9,482.0 L282.7,477.6 L283.3,472.2 L283.7,469.3 L284.1,465.3 L285.0,460.8 L285.8,457.8 L286.4,453.0 L286.9,447.6 L288.4,446.2 L289.1,440.7 L289.2,436.5 L289.8,432.0 L290.0,428.4 L290.5,423.7 L291.1,420.5 L291.9,416.1 L292.2,411.6 L293.1,406.5 L293.4,403.8 L293.8,399.6 L294.1,393.9 L298.0,396.4 L298.6,399.3 L299.8,403.0 L300.0,407.3 L301.1,411.2 L302.3,405.9 L303.0,402.5 L304.2,398.9 L305.1,395.0 L305.8,390.5 L305.9,388.3 L307.0,384.0 L307.3,380.4 L311.6,381.6 L315.3,379.2 L315.7,374.4 L316.5,370.9 L317.4,369.1 L317.7,364.4 L318.0,360.4 L319.2,358.1 L319.9,353.8 L320.2,350.9 L323.9,348.4 L325.4,350.9 L327.6,354.6 L328.6,357.2 L328.9,361.0 L329.7,364.3 L330.7,367.2 L331.2,371.2 L332.8,367.5 L334.9,362.0 L336.0,358.9 L336.5,354.7 L337.4,349.7 L341.1,350.3 L344.2,352.1 L349.1,349.1 L351.5,351.3 L353.4,354.6 L358.3,353.4 L360.9,357.1 L363.2,359.5 L368.1,363.2 L373.1,360.1 L375.0,363.5 L376.7,366.9 L377.2,370.3 L378.0,374.3 L380.3,369.7 L382.9,366.9 L386.6,368.1 L388.5,371.4 L390.3,375.5 L392.3,377.6 L394.0,381.6 L398.9,385.3 L401.0,390.0 L402.6,393.9 L403.7,398.0 L404.4,400.7 L405.0,403.8 L409.9,406.2 L410.4,410.0 L411.4,412.4 L412.4,416.1 L413.3,419.8 L414.0,424.3 L414.9,427.1 L416.8,430.5 L418.6,434.5 L419.7,439.3 L421.0,443.3 L422.2,446.8 L424.6,450.5 L427.2,455.4 L428.0,459.3 L428.6,462.6 L429.6,465.3 L431.5,469.6 L433.1,471.6 L434.5,476.3 L435.8,480.7 L436.7,483.2 L438.2,487.4 L439.0,491.2 L440.0,494.7 L441.1,497.5 L441.9,502.2 L442.9,505.6 L444.1,509.5 L445.6,514.5 L447.1,519.3 L447.8,522.7 L449.3,526.8 L450.8,530.5 L452.5,535.3 L454.2,539.1 L455.5,542.5 L456.5,546.0 L457.9,550.0 L459.0,553.8 L460.8,557.1 L461.8,560.3 L463.4,564.6 L464.4,568.3 L465.7,571.4 L466.8,575.4 L467.6,578.4 L468.7,582.6 L469.7,586.1 L470.8,589.2 L471.7,592.2 L472.6,596.6 L473.2,599.6 L474.3,604.0 L475.5,606.5 L476.4,610.9 L477.0,613.8 L477.9,617.2 L478.9,621.5 L480.2,625.1 L481.3,628.2 L482.4,631.5 L483.0,635.1 L484.3,638.4 L485.2,641.2 L486.9,644.5 L487.7,648.1 L489.4,651.8 L490.2,656.7 L491.4,660.2 L492.9,663.0 L495.6,667.7 L498.1,671.1 L499.1,674.9 L499.7,677.4 L500.4,682.0 L501.0,684.8 L501.7,690.0 L502.0,692.4 L503.0,697.0 L503.7,700.0 L504.5,702.8 L505.5,707.1 L506.8,710.1 L507.6,713.5 L508.5,717.0 L509.4,720.6 L510.9,723.9 L511.7,726.8 L512.7,731.5 L513.7,734.4 L514.5,738.1 L515.8,740.6 L516.5,744.7 L517.1,748.6 L518.5,751.6 L519.0,755.5 L519.7,758.0 L520.6,762.1 L521.5,764.8 L522.6,769.7 L523.2,772.6 L524.1,776.4 L525.1,778.6 L525.7,781.6 L526.7,785.7 L527.6,789.4 L528.3,792.6 L529.2,796.8 L530.0,800.7 L531.0,803.4 L531.9,807.3 L533.0,810.1 L533.6,813.9 L534.7,816.7 L535.5,821.3 L536.2,823.2 L536.9,827.7 L538.0,831.6 L538.8,834.1 L539.7,837.0 L540.0,840.5 L540.7,844.8 L541.8,848.7 L542.1,852.0 L542.8,854.6 L543.8,857.3 L544.1,862.3 L544.9,864.8 L545.8,868.8 L546.1,871.6 L547.1,875.3 L547.8,878.8 L548.4,882.4 L549.7,885.5 L550.3,888.4 L551.0,892.9 L551.7,896.8 L553.0,898.6 L553.8,902.6 L554.5,906.8 L555.1,910.1 L556.1,913.8 L556.7,917.1 L558.0,920.4 L558.5,923.5 L559.4,926.9 L560.2,931.5 L561.2,936.2 L561.9,940.0 L562.8,943.0 L563.7,947.5 L564.3,951.7 L565.4,953.7 L566.5,957.4 L567.0,962.2 L568.0,965.5 L568.8,969.0 L569.7,972.5 L570.4,975.6 L571.1,980.3 L572.4,983.5 L573.2,986.8 L573.8,990.4 L575.0,993.4 L575.6,997.9 L576.3,1001.0 L577.1,1004.9 L577.4,1008.6 L578.2,1012.9 L578.8,1016.7 L579.3,1019.2 L579.9,1022.5 L580.8,1026.9 L581.7,1031.0 L582.1,1033.5 L582.9,1038.2 L583.9,1041.8 L584.5,1044.3 L585.1,1048.0 L585.9,1052.3 L586.6,1055.8 L587.1,1058.9 L588.2,1062.1 L589.0,1067.5 L589.8,1070.1 L590.3,1074.1 L591.0,1078.5 L591.8,1080.8 L592.4,1084.8 L593.4,1088.4 L594.0,1092.5 L594.5,1096.2 L595.6,1099.2 L596.4,1102.8 L596.9,1106.5 L597.6,1110.1 L598.7,1113.7 L600.0,1116.9 L601.1,1121.2 L602.4,1122.8 L603.5,1127.1 L604.2,1129.9 L605.5,1132.6 L606.9,1137.6 L608.0,1140.0 L609.8,1139.4 L610.5,1143.6 L611.5,1145.5 L612.3,1149.9 L613.2,1153.6 L613.8,1156.3 L614.6,1160.9 L615.5,1163.3 L616.2,1166.9 L616.6,1169.4 L617.3,1173.2 L618.1,1177.2 L619.2,1180.7 L619.9,1184.1 L620.9,1188.0 L621.8,1190.9 L623.2,1194.1 L623.7,1199.1 L625.3,1200.9 L626.0,1204.8 L627.2,1207.3 L627.7,1210.7 L629.4,1213.9 L630.2,1217.5 L631.0,1220.9 L632.2,1224.3 L633.3,1228.8 L633.7,1231.0 L634.8,1235.6 L635.6,1237.6 L636.8,1242.3 L638.0,1244.6 L638.6,1249.1 L639.1,1254.4 L640.2,1255.0 L641.3,1258.7 L642.3,1262.7 L642.8,1265.2 L644.2,1269.3 L644.9,1273.5 L646.2,1276.6 L647.4,1279.3 L647.8,1282.4 L649.4,1286.7 L650.0,1288.2 L651.4,1294.2 L652.3,1295.9 L652.9,1298.0 L652.8,1302.1 L653.4,1305.6 L653.8,1311.3 L655.1,1313.6 L655.2,1318.3 L656.1,1322.1 L656.4,1327.4 L656.6,1330.0 L657.7,1332.4 L657.7,1338.1 L658.6,1341.6 L659.9,1343.7 L660.3,1348.5 L662.5,1353.2 L663.7,1359.0 L665.8,1364.7 L669.1,1370.5 L671.9,1376.3 L674.6,1379.8 L677.6,1383.3 L679.1,1389.1 L680.2,1394.3 L681.7,1397.2 L685.0,1401.8 L686.4,1405.3 L688.8,1409.9 L688.8,1413.0 L689.6,1416.9 L690.8,1422.1 L692.4,1426.1 L695.3,1429.1 L697.4,1434.2 L699.6,1438.9 L702.1,1442.9 L704.5,1446.2 L706.4,1448.1 L708.9,1451.4 L711.1,1453.9 L712.8,1457.4 L715.9,1455.4 L719.2,1455.1 L721.5,1457.9 L723.2,1460.9 L723.8,1463.9 L724.9,1469.0 L726.1,1472.5 L729.2,1478.3 L733.1,1482.9 L736.2,1485.5 L738.8,1487.5 L741.5,1489.5 L743.7,1492.2 L746.5,1493.6 L749.6,1495.7 L752.2,1499.7 L757.2,1503.4 L759.5,1507.1 L761.8,1509.2 L766.4,1513.8 L771.1,1514.7 L774.7,1513.6 L778.0,1515.0 L782.7,1515.6 L788.5,1514.1 L793.1,1517.3 L797.7,1521.9 L800.9,1522.1 L804.7,1520.2 L810.5,1523.1 L814.5,1526.0 L817.8,1526.1 L820.9,1523.7 L826.7,1521.7 L831.3,1526.0 L837.1,1528.9 L842.9,1527.1 L846.5,1525.2 L849.3,1523.7 L855.6,1523.7 L861.4,1526.0 L865.3,1526.7 L868.2,1525.6 L871.4,1525.7 L875.3,1526.0 L879.6,1524.8 L883.1,1524.8 L886.9,1526.1 L890.0,1526.3 L893.6,1524.0 L897.0,1525.6 L900.9,1523.3 L904.3,1524.5 L907.9,1525.5 L911.8,1523.8 L915.9,1523.1 L919.3,1524.2 L923.1,1524.5 L926.5,1522.9 L930.0,1524.1 L933.2,1522.6 L937.3,1522.5 L940.0,1525.1 L943.7,1524.7 L947.0,1523.2 L950.8,1523.7 L954.5,1523.2 L957.9,1522.8 L961.4,1523.2 L964.6,1522.5 L968.1,1521.4 L971.7,1522.0 L975.1,1521.0 L978.4,1521.3 L981.9,1520.3 L985.1,1520.8 L988.3,1520.7 L992.1,1520.2 L995.4,1520.3 L998.6,1519.6 L1002.4,1519.3 L1005.5,1518.6 L1008.8,1518.5 L1012.6,1519.3 L1015.8,1518.6 L1019.5,1519.3 L1022.8,1519.1 L1026.2,1518.0 L1029.9,1518.8 L1033.3,1517.9 L1036.7,1517.6 L1040.0,1517.6 L1043.7,1518.1 L1046.7,1517.8 L1050.0,1516.0 L1053.7,1516.0 L1057.0,1516.3 L1060.2,1516.2 L1063.7,1515.3 L1067.2,1515.6 L1070.8,1514.5 L1073.8,1514.2 L1077.4,1513.5 L1080.7,1514.4 L1084.4,1514.5 L1087.9,1514.0 L1091.0,1512.4 L1094.4,1512.6 L1097.9,1512.4 L1101.3,1512.2 L1104.6,1512.6 L1108.0,1511.6 L1111.7,1512.0 L1114.8,1510.7 L1118.5,1510.1 L1121.5,1510.8 L1125.2,1509.9 L1128.3,1509.7 L1132.1,1509.9 L1135.6,1510.3 L1139.0,1508.7 L1142.0,1508.4 L1145.5,1508.7 L1148.7,1508.9 L1152.2,1508.2 L1155.8,1508.3 L1159.1,1508.5 L1162.6,1507.2 L1165.8,1507.2 L1169.5,1507.3 L1173.1,1507.2 L1176.1,1505.7 L1179.8,1506.5 L1183.1,1506.3 L1186.5,1504.9 L1189.7,1504.1 L1193.3,1505.4 L1196.9,1504.3 L1200.2,1504.8 L1203.7,1503.9 L1206.8,1503.4 L1210.1,1502.5 L1213.7,1502.7 L1217.3,1503.2 L1220.7,1501.7 L1224.1,1501.4 L1227.8,1501.0 L1231.4,1500.1 L1234.5,1500.3 L1238.1,1500.5 L1241.8,1500.3 L1245.2,1498.3 L1248.6,1498.8 L1252.1,1497.9 L1255.7,1498.6 L1258.8,1497.8 L1262.5,1497.1 L1266.3,1497.5 L1269.6,1495.8 L1273.2,1495.3 L1276.4,1496.1 L1280.0,1495.1 L1283.3,1494.3 L1287.1,1495.2 L1290.1,1493.9 L1293.5,1493.1 L1296.9,1494.3 L1300.2,1492.6 L1303.7,1492.0 L1307.3,1492.8 L1310.8,1492.3 L1314.2,1490.8 L1317.3,1492.2 L1320.6,1490.6 L1324.3,1490.2 L1327.7,1489.5 L1330.9,1490.8 L1334.3,1490.4 L1337.9,1489.3 L1341.1,1489.9 L1344.8,1488.9 L1347.9,1487.5 L1351.7,1487.4 L1354.8,1488.2 L1358.5,1486.5 L1362.0,1487.1 L1365.1,1486.0 L1368.5,1487.2 L1371.8,1485.3 L1375.2,1485.0 L1378.7,1486.1 L1381.9,1484.5 L1385.8,1485.6 L1389.2,1483.9 L1392.3,1484.8 L1395.8,1483.7 L1399.2,1483.8 L1402.5,1482.3 L1405.9,1483.3 L1409.6,1482.7 L1412.8,1482.4 L1416.2,1482.1 L1419.8,1481.3 L1423.1,1482.3 L1426.6,1480.7 L1430.1,1481.6 L1433.1,1480.3 L1436.5,1479.6 L1440.3,1480.0 L1443.7,1479.2 L1446.6,1480.3 L1450.5,1480.3 L1453.7,1479.1 L1457.3,1478.9 L1460.8,1477.8 L1464.2,1478.1 L1467.5,1478.1 L1471.1,1477.7 L1474.6,1477.0 L1478.0,1477.3 L1481.9,1477.6 L1485.3,1477.1 L1488.5,1477.1 L1492.0,1475.2 L1495.6,1476.0 L1499.0,1475.6 L1502.4,1475.9 L1506.0,1474.7 L1509.5,1475.1 L1513.3,1474.2 L1516.5,1474.1 L1520.0,1473.6 L1523.2,1473.1 L1527.1,1473.3 L1530.2,1473.1 L1533.8,1473.0 L1537.3,1471.2 L1540.9,1472.0 L1544.3,1471.6 L1547.9,1470.3 L1551.2,1470.2 L1554.7,1469.6 L1558.3,1470.1 L1561.8,1468.4 L1565.1,1468.5 L1568.7,1467.7 L1571.9,1467.6 L1575.5,1466.7 L1579.1,1467.9 L1582.6,1467.2 L1586.2,1467.0 L1589.8,1465.9 L1593.1,1465.0 L1596.5,1465.3 L1600.2,1464.8 L1603.4,1465.4 L1606.7,1463.9 L1610.5,1464.3 L1613.5,1463.0 L1617.1,1462.7 L1620.8,1462.7 L1624.0,1462.8 L1627.6,1462.5 L1631.1,1462.7 L1634.4,1461.3 L1638.2,1462.1 L1641.1,1461.4 L1644.9,1462.1 L1648.0,1460.0 L1651.7,1460.5 L1655.4,1460.9 L1658.5,1459.9 L1662.1,1460.4 L1665.3,1459.2 L1668.7,1459.4 L1672.1,1459.6 L1675.9,1458.7 L1679.1,1457.8 L1682.7,1458.6 L1686.2,1457.3 L1689.9,1457.7 L1693.1,1456.6 L1696.4,1457.5 L1700.0,1456.5 L1703.2,1456.2 L1706.9,1455.5 L1710.4,1456.1 L1713.8,1455.4 L1716.9,1453.9 L1720.4,1453.9 L1723.7,1454.6 L1727.1,1454.1 L1730.9,1452.5 L1734.3,1452.6 L1737.3,1451.9 L1740.6,1452.1 L1744.2,1452.3 L1747.9,1450.5 L1751.0,1450.7 L1754.3,1450.1 L1757.9,1450.2 L1761.2,1450.2 L1764.6,1448.9 L1768.0,1449.2 L1771.6,1448.5 L1775.0,1448.2 L1778.4,1448.6 L1781.6,1448.5 L1785.1,1447.8 L1788.6,1447.7 L1791.9,1446.3 L1795.5,1447.5 L1798.8,1446.7 L1802.1,1446.9 L1805.7,1445.4 L1809.2,1446.5 L1812.3,1446.2 L1815.8,1445.0 L1819.2,1444.1 L1822.7,1444.0 L1826.1,1444.1 L1829.2,1443.7 L1833.0,1443.2 L1836.3,1443.6 L1839.6,1442.6 L1843.1,1442.8 L1846.3,1441.1 L1850.0,1441.6 L1853.2,1441.9 L1856.9,1440.9 L1860.3,1441.1 L1863.6,1439.8 L1866.6,1440.1 L1870.4,1439.2 L1873.7,1439.1 L1877.2,1438.8 L1880.5,1438.6 L1884.2,1437.6 L1887.4,1437.5 L1891.0,1437.4 L1894.5,1436.4 L1898.0,1436.0 L1901.7,1435.0 L1904.9,1435.3 L1908.4,1434.9 L1911.9,1433.7 L1915.6,1434.8 L1919.3,1433.7 L1922.5,1432.4 L1925.9,1432.4 L1929.8,1431.7 L1933.3,1431.9 L1936.5,1431.1 L1940.0,1431.1 L1943.7,1430.3 L1946.9,1430.7 L1950.1,1429.9 L1953.9,1430.7 L1957.2,1430.7 L1960.2,1430.1 L1964.0,1429.0 L1967.2,1430.2 L1970.6,1429.6 L1973.9,1429.2 L1977.3,1428.7 L1980.8,1429.1 L1984.4,1428.2 L1987.8,1427.8 L1991.3,1427.3 L1994.5,1427.7 L1997.9,1427.3 L2001.2,1426.2 L2004.5,1427.0 L2008.0,1426.9 L2011.5,1427.0 L2015.1,1426.3 L2018.3,1424.7 L2021.8,1425.7 L2025.4,1424.5 L2028.4,1425.6 L2032.1,1424.4 L2035.5,1423.5 L2038.8,1424.1 L2042.2,1422.9 L2045.4,1423.5 L2049.2,1422.3 L2051.9,1421.4 L2055.8,1422.4 L2059.5,1421.9 L2062.6,1423.7 L2066.1,1421.2 L2069.6,1420.2 L2072.6,1422.3 L2075.9,1420.1 L2079.7,1420.9 L2083.5,1420.0 L2086.7,1420.8 L2090.2,1420.8 L2093.4,1420.3 L2096.4,1420.6 L2100.4,1420.1 L2103.2,1420.2 L2106.5,1419.7 L2110.4,1420.3 L2113.7,1420.0 L2117.9,1419.1 L2121.4,1418.1 L2125.8,1418.4 L2130.0,1419.2 L2133.5,1418.2 L2137.1,1419.1 L2140.4,1419.3 L2143.6,1418.1 L2146.8,1416.7 L2150.7,1417.9 L2153.5,1419.0 L2157.3,1417.8 L2160.6,1416.0 L2164.5,1415.9 L2167.3,1418.3 L2170.5,1416.5 L2174.3,1415.5 L2178.1,1415.8 L2180.6,1415.8 L2184.0,1416.3 L2187.9,1415.4 L2191.7,1416.5 L2194.3,1415.5 L2197.9,1414.7 L2201.3,1414.0 L2204.6,1414.8 L2207.9,1415.7 L2211.3,1415.4 L2214.9,1412.4 L2218.8,1413.6 L2222.2,1413.4 L2225.5,1411.8 L2228.9,1413.0 L2232.6,1411.1 L2235.2,1413.1 L2239.4,1412.1 L2242.6,1412.3 L2245.8,1411.9 L2249.6,1411.5 L2253.6,1409.9 L2257.2,1411.9 L2261.0,1410.7 L2264.9,1410.1 L2269.0,1410.3 L2272.6,1410.6 L2276.4,1409.3 L2279.2,1408.4 L2282.5,1407.6 L2286.4,1408.0 L2290.3,1408.5 L2293.9,1407.2 L2298.0,1408.3 L2301.1,1407.5 L2304.9,1407.9 L2308.7,1409.1 L2311.7,1408.9 L2315.3,1409.3 L2318.4,1410.0 L2322.3,1409.3"/>
</g>
<!-- 215 nm marker -->
<g fill="#0096AF" shape-rendering="crispEdges">
<rect x="342" y="261" width="13" height="67"/>
<rect x="342" y="386" width="13" height="67"/>
<rect x="342" y="511" width="13" height="67"/>
<rect x="342" y="636" width="13" height="67"/>
</g>
<text x="265.4" y="230.8" style="fill:#0096AF">215nm</text>
<!-- legend -->
<g fill="none" stroke-width="13" stroke-linecap="round" shape-rendering="crispEdges">
<line x1="1566.5" y1="220.5" x2="1795.5" y2="220.5" stroke="#0000FF"/>
<line x1="1566.5" y1="356.5" x2="1795.5" y2="356.5" stroke="#000000"/>
<line x1="1566.5" y1="493.5" x2="1795.5" y2="493.5" stroke="#FF6A66"/>
</g>
<text class="s" x="1823.4" y="254.8">Ti-HHS-1</text>
<text class="s" x="1823.4" y="391.8">Ti-HHS-2</text>
<text class="s" x="1823.4" y="528.8">Ti-HHS-3</text>
<!-- axis labels -->
<text x="298.3" y="1861.8" text-anchor="middle">200</text>
<text x="635.1" y="1861.8" text-anchor="middle">300</text>
<text x="972.0" y="1861.8" text-anchor="middle">400</text>
<text x="1308.8" y="1861.8" text-anchor="middle">500</text>
<text x="1645.6" y="1861.8" text-anchor="middle">600</text>
<text x="1982.4" y="1861.8" text-anchor="middle">700</text>
<text x="2319.3" y="1861.8" text-anchor="middle">800</text>

<text x="1291.5" y="2041.8" text-anchor="middle">Wavelength (nm)</text>
<text transform="translate(102.2,833.6) rotate(-90)" text-anchor="middle" style="font-size:109.1px">Abs</text>
</svg>
</body>
</html>
